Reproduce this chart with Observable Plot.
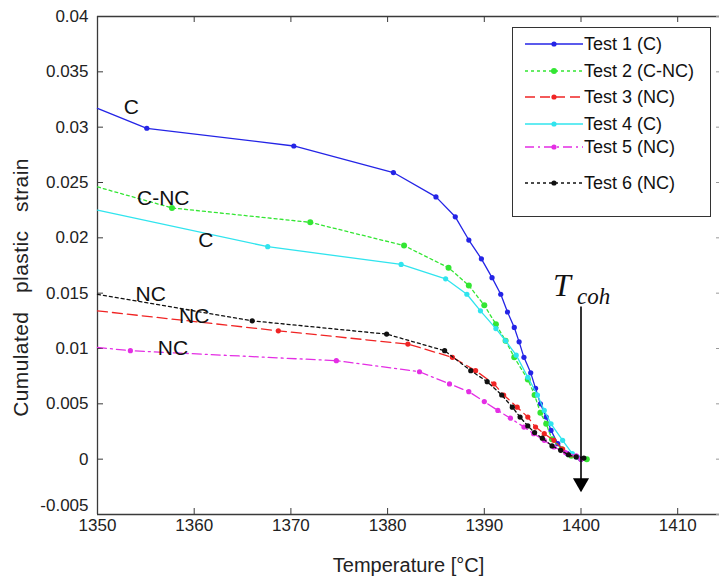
<!DOCTYPE html>
<html>
<head>
<meta charset="utf-8">
<script src="https://cdn.jsdelivr.net/npm/d3@7"></script>
<script src="https://cdn.jsdelivr.net/npm/@observablehq/plot@0.6"></script>
<style>
  html, body { margin: 0; padding: 0; background: #fff; }
  #wrap { position: relative; width: 719px; height: 581px; overflow: hidden; font-family: "Liberation Sans", Arial, sans-serif; }
  #legend { position: absolute; left: 512px; top: 27px; width: 199px; height: 190px; border: 1.3px solid #333; background: #fff; box-sizing: border-box; }
  .row { position: absolute; left: 0; height: 22px; display: flex; align-items: center; }
  .row svg { display: block; }
  .row span { font-size: 18px; color: #111; margin-left: 0px; }
  .ytitle text { letter-spacing: 0.4px; white-space: pre; }
</style>
</head>
<body>
<div id="wrap"><div id="chart"></div><div id="legend"></div></div>
<script>
// ---- data ----
const xTicks = [1350, 1360, 1370, 1380, 1390, 1400, 1410];
const yTicks = [-0.005, 0, 0.005, 0.01, 0.015, 0.02, 0.025, 0.03, 0.035, 0.04];

const seriesNames = ["Test 1 (C)", "Test 2 (C-NC)", "Test 3 (NC)", "Test 4 (C)", "Test 5 (NC)", "Test 6 (NC)"];
const seriesColors = ["#2424e6", "#33e633", "#f02424", "#30e4ee", "#e42ee4", "#111111"];
const seriesDash = ["none", "3,3", "10,5", "none", "9,4,2,4", "3,3"];

const test1T = [1350, 1355.1, 1370.3, 1380.6, 1385.0, 1387.0, 1388.4, 1389.7, 1390.8, 1391.7, 1392.4, 1393.1, 1393.6, 1394.1, 1394.8, 1395.3, 1395.8, 1396.4, 1396.9, 1397.6, 1398.6, 1399.6, 1400.0];
const test1S = [0.0317, 0.0299, 0.0283, 0.0259, 0.0237, 0.0219, 0.0198, 0.0181, 0.0164, 0.0149, 0.0133, 0.0119, 0.0106, 0.0092, 0.0078, 0.0064, 0.0050, 0.0038, 0.0026, 0.0014, 0.0005, 0.0002, 0.0000];

const test2T = [1350, 1357.7, 1372.0, 1381.7, 1386.3, 1388.4, 1390.0, 1391.2, 1392.2, 1393.1, 1394.5, 1395.2, 1395.8, 1396.4, 1397.0, 1398.0, 1399.0, 1400.6];
const test2S = [0.0246, 0.0227, 0.0214, 0.0193, 0.0173, 0.0157, 0.0139, 0.0122, 0.0107, 0.0092, 0.0072, 0.0058, 0.0042, 0.0032, 0.0018, 0.0009, 0.0003, 0.0000];

const test3T = [1350, 1368.7, 1382.1, 1386.7, 1389.1, 1391.0, 1392.0, 1393.4, 1394.5, 1395.3, 1396.2, 1397.2, 1398.1, 1399.0, 1400.0];
const test3S = [0.0134, 0.0116, 0.0104, 0.0092, 0.0080, 0.0068, 0.0058, 0.0047, 0.0038, 0.0029, 0.0023, 0.0017, 0.0009, 0.0004, 0.0000];

const test4T = [1350, 1367.6, 1381.4, 1386.0, 1388.2, 1389.6, 1391.2, 1392.2, 1393.3, 1394.5, 1395.5, 1396.2, 1396.9, 1398.1, 1399.1, 1400.0];
const test4S = [0.0225, 0.0192, 0.0176, 0.0163, 0.0149, 0.0134, 0.0118, 0.0107, 0.0094, 0.0074, 0.0058, 0.0044, 0.0032, 0.0017, 0.0005, 0.0000];

const test5T = [1350, 1353.4, 1374.7, 1383.3, 1386.4, 1388.4, 1390.0, 1391.4, 1392.7, 1394.1, 1395.1, 1396.2, 1397.2, 1398.4, 1399.5, 1400.0];
const test5S = [0.0101, 0.0098, 0.0089, 0.0079, 0.0068, 0.0061, 0.0052, 0.0044, 0.0037, 0.0029, 0.0023, 0.0017, 0.0011, 0.0006, 0.0003, 0.0000];

const test6T = [1350, 1366.0, 1379.9, 1385.9, 1388.6, 1390.3, 1391.8, 1392.9, 1393.7, 1394.5, 1395.2, 1396.0, 1397.0, 1397.9, 1398.7, 1399.5, 1400.3];
const test6S = [0.0149, 0.0125, 0.0113, 0.0098, 0.0080, 0.0070, 0.0058, 0.0047, 0.0038, 0.0030, 0.0024, 0.0019, 0.0012, 0.0008, 0.0004, 0.0002, 0.0001];

const labelText = ["C", "C-NC", "C", "NC", "NC", "NC"];
const labelT = [1353.5, 1356.8, 1361.2, 1355.5, 1360.0, 1357.8];
const labelS = [0.0318, 0.0236, 0.0198, 0.0149, 0.0129, 0.0100];

const tcohT = 1400;
const tcohTop = 0.0138;
const tcohHead = -0.00215;

// ---- build rows ----
const allT = [test1T, test2T, test3T, test4T, test5T, test6T];
const allS = [test1S, test2S, test3S, test4S, test5S, test6S];
const rows = [];
allT.forEach((ts, k) => ts.forEach((t, i) => rows.push({series: seriesNames[k], k, t, s: allS[k][i], marker: i > 0})));
const labels = labelText.map((txt, i) => ({txt, t: labelT[i], s: labelS[i]}));

const W = 719, H = 581, mL = 97, mR = 0, mT = 16, mB = 67;
const innerW = W - mL - mR, innerH = H - mT - mB;
const xMax = 1350 + innerW / 9.67;
const axisColor = "#3a3a3a";
const tickFont = 17;

const marks = [];
// frame lines (left, bottom, top)
marks.push(Plot.ruleX([1350], {stroke: axisColor, strokeWidth: 1.3}));
marks.push(Plot.ruleY([-0.005, 0.04], {stroke: axisColor, strokeWidth: 1.3}));
// inward ticks
marks.push(Plot.tickX(xTicks, {x: d => d, stroke: axisColor, insetTop: innerH - 6}));
marks.push(Plot.tickX(xTicks, {x: d => d, stroke: axisColor, insetBottom: innerH - 6}));
marks.push(Plot.tickY(yTicks, {y: d => d, stroke: axisColor, insetRight: innerW - 6}));
marks.push(Plot.tickY(yTicks, {y: d => d, stroke: "#999", insetLeft: innerW - 3}));
// axes labels
marks.push(Plot.axisX(xTicks, {tickSize: 0, tickPadding: 4, tickFormat: d => String(d), fontSize: tickFont, fill: "#222", label: null}));
marks.push(Plot.axisY(yTicks.filter(v => v !== -0.005), {tickSize: 0, tickPadding: 9, tickFormat: d => String(d), fontSize: tickFont, fill: "#222", label: null}));
marks.push(Plot.axisY([-0.005], {tickSize: 0, tickPadding: 9, dy: -9, tickFormat: d => String(d), fontSize: tickFont, fill: "#222", label: null}));
// titles
marks.push(Plot.text(["Temperature [°C]"], {frameAnchor: "bottom", textAnchor: "middle", dy: 57, fontSize: 20, fill: "#222"}));
marks.push(Plot.text(["Cumulated   plastic   strain"], {frameAnchor: "left", textAnchor: "middle", rotate: -90, dx: -76, dy: 22, fontSize: 21, fill: "#222", className: "ytitle"}));

// series lines and markers
seriesNames.forEach((name, k) => {
  const data = rows.filter(d => d.k === k);
  marks.push(Plot.line(data, {x: "t", y: "s", stroke: seriesColors[k], strokeWidth: 1.3, strokeDasharray: seriesDash[k]}));
  marks.push(Plot.dot(data.filter(d => d.marker), {x: "t", y: "s", fill: seriesColors[k], r: k === 1 ? 3 : 2.6}));
});

// curve labels
marks.push(Plot.text(labels, {x: "t", y: "s", text: "txt", fontSize: 21, fill: "#111"}));

// T_coh arrow
marks.push(Plot.link([{t: tcohT}], {x1: "t", x2: "t", y1: () => tcohTop, y2: () => tcohHead, stroke: "#000", strokeWidth: 1.6}));
marks.push(Plot.dot([{t: tcohT}], {x: "t", y: () => tcohHead, symbol: "triangle", r: 6, rotate: 180, fill: "#000", stroke: "none"}));
marks.push(Plot.text(["T"], {x: () => tcohT, y: () => tcohTop, textAnchor: "start", dx: -28, dy: -21, fontSize: 32, fontStyle: "italic", fontFamily: "Liberation Serif, Times New Roman, serif", fill: "#111"}));
marks.push(Plot.text(["coh"], {x: () => tcohT, y: () => tcohTop, textAnchor: "start", dx: -4, dy: -10, fontSize: 23, fontStyle: "italic", fontFamily: "Liberation Serif, Times New Roman, serif", fill: "#111"}));

const chart = Plot.plot({
  width: W, height: H,
  marginLeft: mL, marginRight: mR, marginTop: mT, marginBottom: mB,
  style: {fontFamily: "Liberation Sans, Arial, sans-serif", background: "#fff", overflow: "visible"},
  x: {domain: [1350, xMax], axis: null},
  y: {domain: [-0.005, 0.04], axis: null},
  marks
});
document.getElementById("chart").appendChild(chart);

// ---- legend ----
const legend = document.getElementById("legend");
const rowTops = [5, 32, 58, 85, 108, 144];
seriesNames.forEach((name, k) => {
  const row = document.createElement("div");
  row.className = "row";
  row.style.top = rowTops[k] + "px";
  const svg = d3.create("svg").attr("width", 71).attr("height", 22);
  svg.append("line").attr("x1", 12).attr("x2", 70).attr("y1", 11).attr("y2", 11)
    .attr("stroke", seriesColors[k]).attr("stroke-width", 1.3)
    .attr("stroke-dasharray", seriesDash[k] === "none" ? null : seriesDash[k]);
  svg.append("circle").attr("cx", 41).attr("cy", 11).attr("r", k === 1 ? 3 : 2.6).attr("fill", seriesColors[k]);
  row.appendChild(svg.node());
  const span = document.createElement("span");
  span.textContent = name;
  row.appendChild(span);
  legend.appendChild(row);
});
</script>
</body>
</html>
